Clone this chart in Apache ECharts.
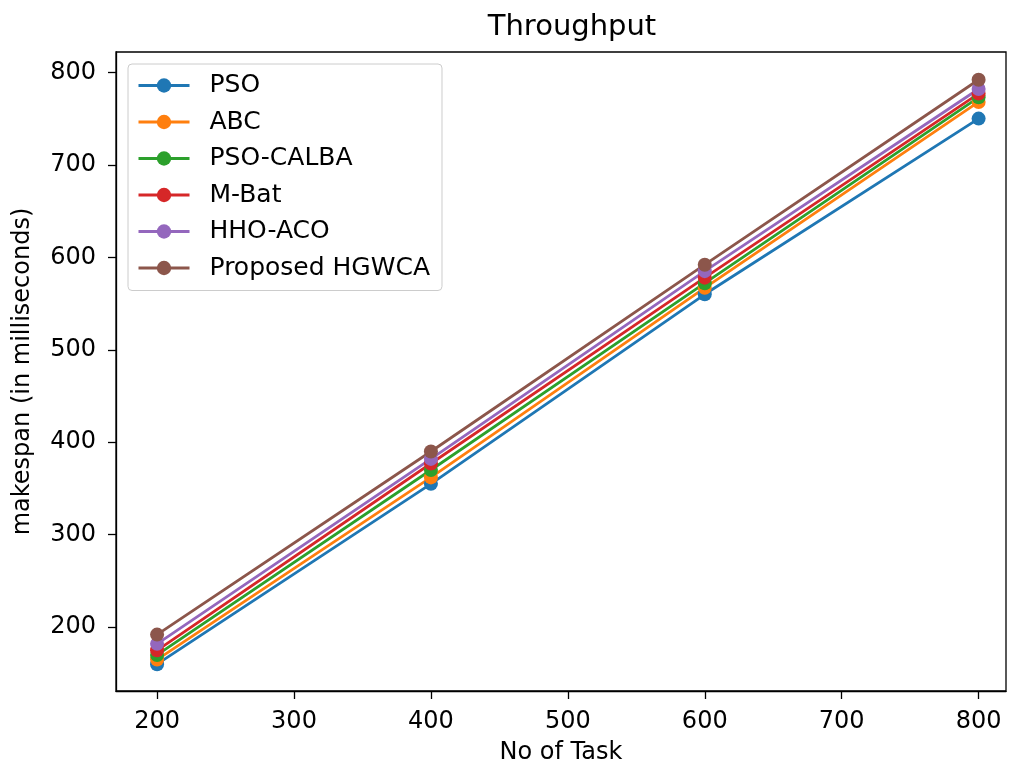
<!DOCTYPE html>
<html><head><meta charset="utf-8">
<script src="https://cdn.jsdelivr.net/npm/echarts@6/dist/echarts.min.js"></script>
<style>html,body{margin:0;padding:0;background:#fff}#c{width:1010px;height:762px}</style>
</head><body><div id="c"></div>
<script>
const tasks = [200, 400, 600, 800];
const xTicks = [200, 300, 400, 500, 600, 700, 800];
const yTicks = [200, 300, 400, 500, 600, 700, 800];
const names = ['PSO', 'ABC', 'PSO-CALBA', 'M-Bat', 'HHO-ACO', 'Proposed HGWCA'];
const pso = [160, 355, 560, 750];
const abc = [165, 362, 567, 768];
const psoCalba = [170, 370, 572, 773];
const mBat = [175, 377, 578, 777];
const hhoAco = [182, 382, 585, 782];
const hgwca = [192, 390, 592, 792];
const colors = ['#1f77b4', '#ff7f0e', '#2ca02c', '#d62728', '#9467bd', '#8c564b'];
const allData = [pso, abc, psoCalba, mBat, hhoAco, hgwca];

const font = 'DejaVu Sans';
const chart = echarts.init(document.getElementById('c'));
chart.setOption({
  animation: false,
  title: { text: 'Throughput', left: 567, top: 8, textAlign: 'center',
    textStyle: { fontFamily: font, fontSize: 29, fontWeight: 'normal', color: '#000' } },
  grid: { left: 116, right: 4, top: 52, bottom: 71, show: true, borderColor: '#000', borderWidth: 1.3,
    outerBoundsMode: 'none', containLabel: false },
  legend: {
    orient: 'vertical', left: 128, top: 64, padding: [9, 12, 10, 9],
    itemWidth: 51, itemHeight: 18, itemGap: 11.5,
    backgroundColor: '#fff', borderColor: '#ccc', borderWidth: 1, borderRadius: 4,
    lineStyle: { width: 3 },
    textStyle: { fontFamily: font, fontSize: 25, lineHeight: 24, color: '#000', padding: [0, 0, 0, 15] },
    data: names
  },
  xAxis: {
    type: 'value', min: 170, max: 820,
    name: 'No of Task', nameLocation: 'middle', nameGap: 50,
    nameTextStyle: { fontFamily: font, fontSize: 24, color: '#000' },
    axisLine: { show: true, lineStyle: { color: '#000', width: 1.3 } },
    axisTick: { show: true, customValues: xTicks, length: 8, lineStyle: { color: '#000', width: 1.3 } },
    axisLabel: { customValues: xTicks, fontFamily: font, fontSize: 24, color: '#000', margin: 19 },
    splitLine: { show: false }
  },
  yAxis: {
    type: 'value', min: 131, max: 822,
    name: 'makespan (in milliseconds)', nameLocation: 'middle', nameGap: 81,
    nameTextStyle: { fontFamily: font, fontSize: 24, color: '#000' },
    axisLine: { show: true, lineStyle: { color: '#000', width: 1.3 } },
    axisTick: { show: true, customValues: yTicks, length: 8, lineStyle: { color: '#000', width: 1.3 } },
    axisLabel: { customValues: yTicks, fontFamily: font, fontSize: 24, color: '#000', margin: 20 },
    splitLine: { show: false }
  },
  series: names.map((n, i) => ({
    name: n, type: 'line',
    data: tasks.map((t, j) => [t, allData[i][j]]),
    symbol: 'circle', symbolSize: 14,
    lineStyle: { width: 2.8, color: colors[i] },
    itemStyle: { color: colors[i] },
    color: colors[i]
  }))
});
</script></body></html>
